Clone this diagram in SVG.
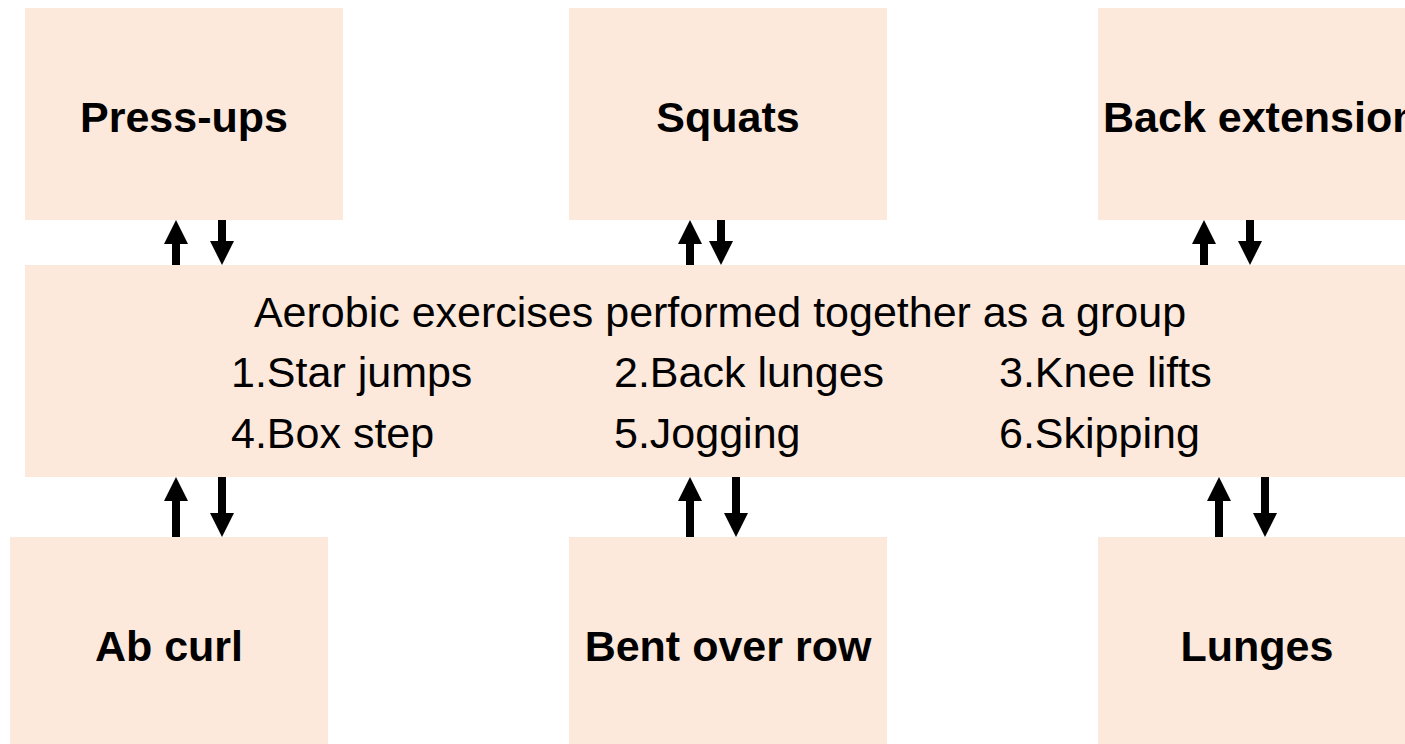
<svg xmlns="http://www.w3.org/2000/svg" width="1405" height="744" viewBox="0 0 1405 744">
  <style>
    .box { fill: #fde9db; }
    .title { font-family: "Liberation Sans", Arial, sans-serif; font-weight: bold; font-size: 43px; fill: #000; }
    .body { font-family: "Liberation Sans", Arial, sans-serif; font-size: 43px; fill: #000; }
    .link { stroke: #000; stroke-width: 8; fill: none; marker-end: url(#head); }
  </style>
  <defs>
    <marker id="head" markerUnits="userSpaceOnUse" markerWidth="24" markerHeight="24" viewBox="0 0 24 24" refX="0" refY="12" orient="auto">
      <path d="M0,0 L24,12 L0,24 Z" fill="#000"/>
    </marker>
  </defs>
  <rect width="1405" height="744" fill="#fff"/>

  <g id="press-ups">
    <rect class="box" x="25" y="8" width="318" height="212"/>
    <text class="title" x="184" y="132" text-anchor="middle">Press-ups</text>
  </g>
  <g id="squats">
    <rect class="box" x="569" y="8" width="318" height="212"/>
    <text class="title" x="728" y="132" text-anchor="middle">Squats</text>
  </g>
  <g id="back-extension">
    <rect class="box" x="1098" y="8" width="318" height="212"/>
    <text class="title" x="1103" y="132">Back extension</text>
  </g>

  <g id="aerobic">
    <rect class="box" x="25" y="265" width="1391" height="212"/>
    <text class="body" x="720" y="327" text-anchor="middle">Aerobic exercises performed together as a group</text>
    <text class="body" x="231" y="387">1.Star jumps</text>
    <text class="body" x="614" y="387">2.Back lunges</text>
    <text class="body" x="999" y="387">3.Knee lifts</text>
    <text class="body" x="231" y="448">4.Box step</text>
    <text class="body" x="614" y="448">5.Jogging</text>
    <text class="body" x="999" y="448">6.Skipping</text>
  </g>

  <g id="ab-curl">
    <rect class="box" x="10" y="537" width="318" height="212"/>
    <text class="title" x="169" y="661" text-anchor="middle">Ab curl</text>
  </g>
  <g id="bent-over-row">
    <rect class="box" x="569" y="537" width="318" height="212"/>
    <text class="title" x="728" y="661" text-anchor="middle">Bent over row</text>
  </g>
  <g id="lunges">
    <rect class="box" x="1098" y="537" width="318" height="212"/>
    <text class="title" x="1257" y="661" text-anchor="middle">Lunges</text>
  </g>

  <g id="connectors">
    <!-- upper row: aerobic box <-> top boxes -->
    <line class="link" x1="176" y1="265" x2="176" y2="244"/>
    <line class="link" x1="222" y1="220" x2="222" y2="241"/>
    <line class="link" x1="690" y1="265" x2="690" y2="244"/>
    <line class="link" x1="721" y1="220" x2="721" y2="241"/>
    <line class="link" x1="1204" y1="265" x2="1204" y2="244"/>
    <line class="link" x1="1250" y1="220" x2="1250" y2="241"/>
    <!-- lower row: bottom boxes <-> aerobic box -->
    <line class="link" x1="176" y1="537" x2="176" y2="501"/>
    <line class="link" x1="222" y1="477" x2="222" y2="513"/>
    <line class="link" x1="690" y1="537" x2="690" y2="501"/>
    <line class="link" x1="736" y1="477" x2="736" y2="513"/>
    <line class="link" x1="1219" y1="537" x2="1219" y2="501"/>
    <line class="link" x1="1265" y1="477" x2="1265" y2="513"/>
  </g>
</svg>
